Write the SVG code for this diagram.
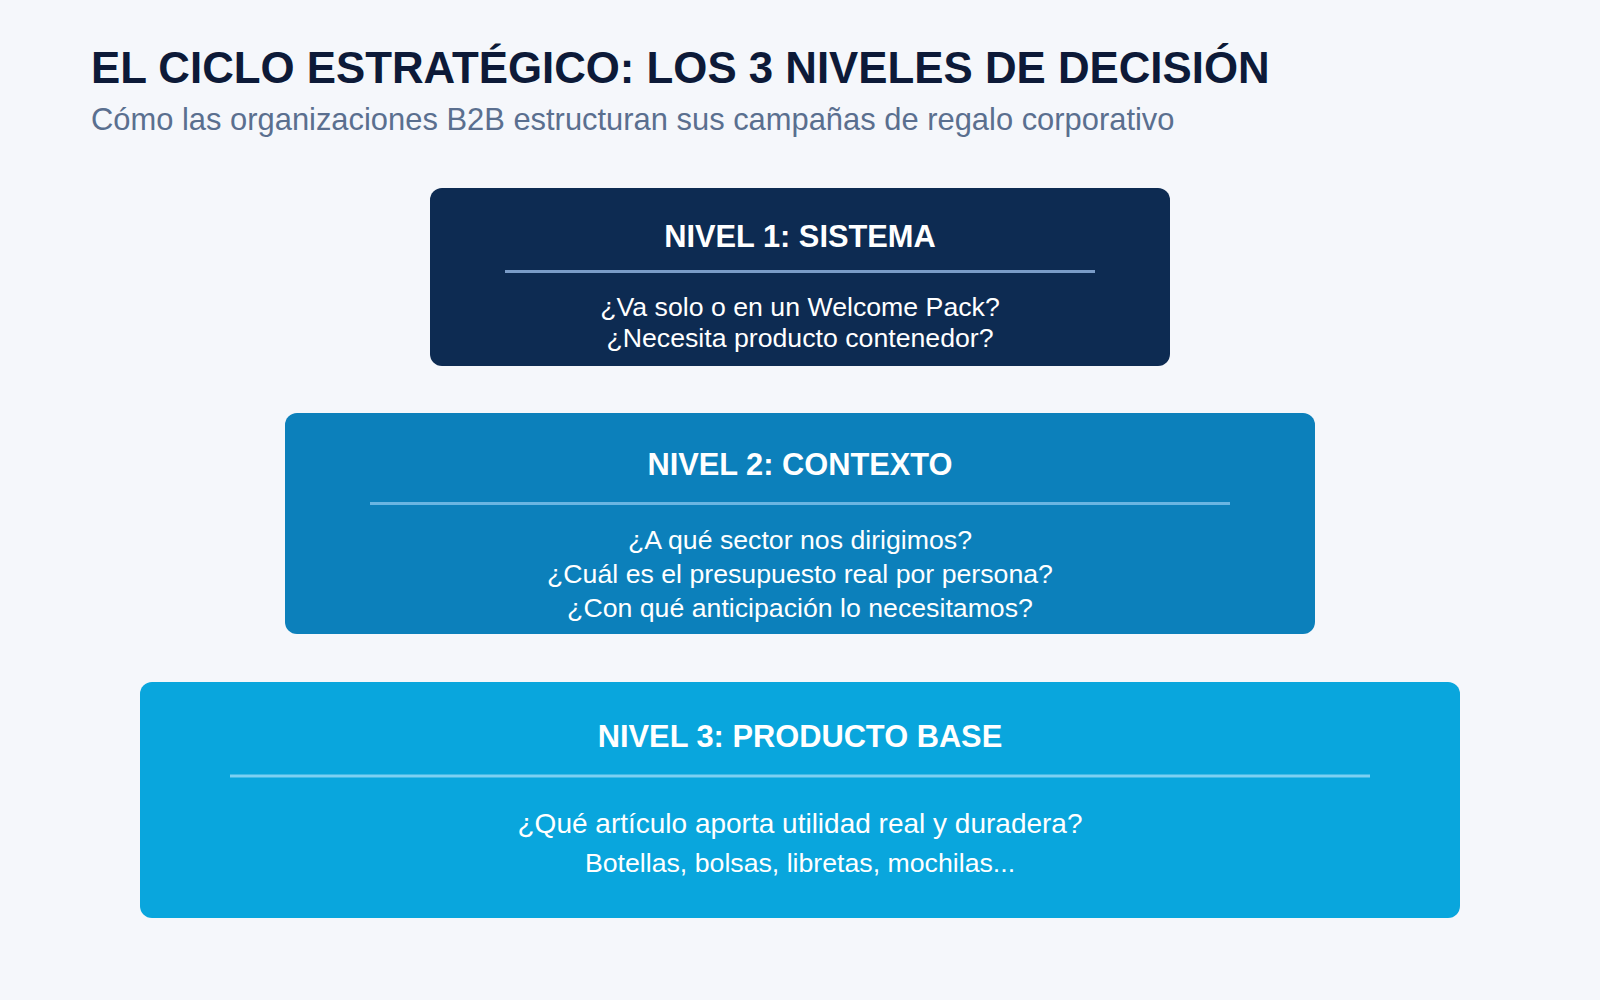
<svg xmlns="http://www.w3.org/2000/svg" width="1600" height="1000" viewBox="0 0 1600 1000">
  <style>
    .title { font-family: "Liberation Sans", Arial, sans-serif; font-weight: bold; font-size: 43.8px; fill: #0d1a38; }
    .subtitle { font-family: "Liberation Sans", Arial, sans-serif; font-size: 30.9px; fill: #5a6f8f; }
    .ntitle { font-family: "Liberation Sans", Arial, sans-serif; font-weight: bold; font-size: 30.8px; fill: #ffffff; text-anchor: middle; }
    .body { font-family: "Liberation Sans", Arial, sans-serif; font-size: 26.7px; fill: #ffffff; text-anchor: middle; }
    .sep { stroke-width: 3; }
  </style>
  <rect x="0" y="0" width="1600" height="1000" fill="#f5f7fb"/>
  <g id="header">
    <text class="title" x="91" y="82.5">EL CICLO ESTRATÉGICO: LOS 3 NIVELES DE DECISIÓN</text>
    <text class="subtitle" x="91" y="129.5">Cómo las organizaciones B2B estructuran sus campañas de regalo corporativo</text>
  </g>
  <g id="connectors"></g>
  <g id="nivel1">
    <rect x="430" y="188" width="740" height="178" rx="12" ry="12" fill="#0d2b52"/>
    <text class="ntitle" x="800" y="247">NIVEL 1: SISTEMA</text>
    <line class="sep" x1="505" y1="271.5" x2="1095" y2="271.5" stroke="#7a9cc8"/>
    <text class="body" x="800" y="316">¿Va solo o en un Welcome Pack?</text>
    <text class="body" x="800" y="347">¿Necesita producto contenedor?</text>
  </g>
  <g id="nivel2">
    <rect x="285" y="413" width="1030" height="221" rx="12" ry="12" fill="#0c80bb"/>
    <text class="ntitle" x="800" y="475">NIVEL 2: CONTEXTO</text>
    <line class="sep" x1="370" y1="503.5" x2="1230" y2="503.5" stroke="#6ab5e2"/>
    <text class="body" x="800" y="549">¿A qué sector nos dirigimos?</text>
    <text class="body" x="800" y="583">¿Cuál es el presupuesto real por persona?</text>
    <text class="body" x="800" y="617">¿Con qué anticipación lo necesitamos?</text>
  </g>
  <g id="nivel3">
    <rect x="140" y="682" width="1320" height="236" rx="12" ry="12" fill="#09a6dd"/>
    <text class="ntitle" x="800" y="746.5">NIVEL 3: PRODUCTO BASE</text>
    <line class="sep" x1="230" y1="776" x2="1370" y2="776" stroke="#7dd0f2"/>
    <text class="body" x="800" y="832.5" style="font-size:28px">¿Qué artículo aporta utilidad real y duradera?</text>
    <text class="body" x="800" y="872">Botellas, bolsas, libretas, mochilas...</text>
  </g>
</svg>
